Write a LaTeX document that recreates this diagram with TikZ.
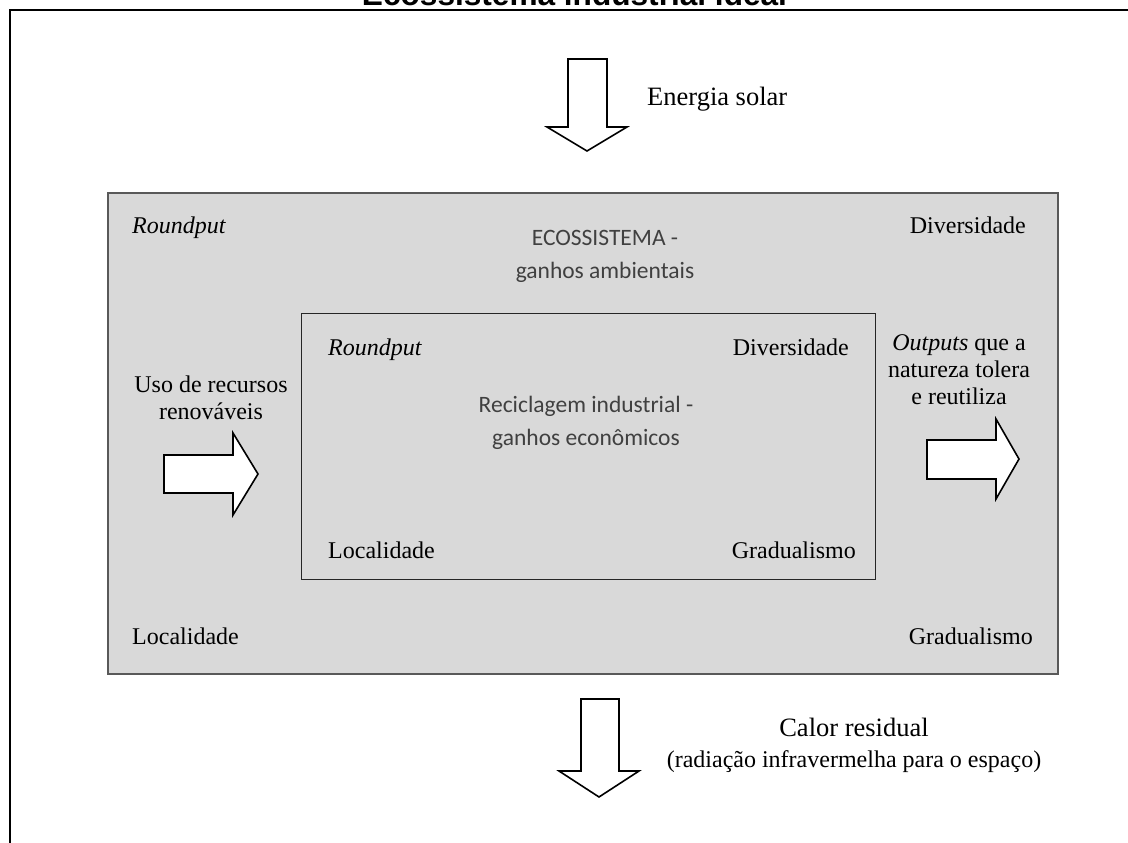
\documentclass[tikz,border=0pt]{standalone}
\usepackage{fontspec}
\setmainfont{Liberation Serif}
\newfontfamily\titlefont{Liberation Sans}
\newfontfamily\calfont{Carlito}
\definecolor{boxgray}{HTML}{D9D9D9}
\definecolor{edgegray}{HTML}{595959}
\definecolor{txtgray}{HTML}{404040}
\begin{document}
\begin{tikzpicture}[x=1pt,y=-1pt,
  serif/.style={inner sep=0pt,font=\fontsize{24}{27}\selectfont},
  serifbig/.style={inner sep=0pt,font=\fontsize{26.5}{30}\selectfont},
  calib/.style={inner sep=0pt,text=txtgray,align=center,font=\calfont\fontsize{23.5}{33}\selectfont},
  bigarrow/.style={draw=black,fill=white,line width=1.6pt,line join=miter},
  outerbox/.style={draw=edgegray,fill=boxgray,line width=2pt},
  innerbox/.style={draw=black!85,fill=boxgray,line width=1.3pt}]
\useasboundingbox (0,0) rectangle (1128,843);
\clip (0,0) rectangle (1128,843);
% frame
\draw[line width=2.5pt,line cap=rect] (10,843) -- (10,10) -- (1128,10);
\node[anchor=base,inner sep=0pt,font=\titlefont\bfseries\fontsize{31.6}{36}\selectfont] (title) at (574.5,6) {Ecossistema industrial ideal};
% top arrow
\draw[bigarrow] (568,59) -- (607,59) -- (607,127) -- (627,127) -- (587,151) -- (547,127) -- (568,127) -- cycle;
\node[serifbig,anchor=base west] (solar) at (647,106) {Energia solar};
% outer box
\node[outerbox,minimum width=950pt,minimum height=481pt,anchor=north west,inner sep=0pt] (outer) at (107,192) {};
\node[serif,anchor=base west] (oR) at (132,233) {\itshape Roundput};
\node[serif,anchor=base east] (oD) at (1026,233) {Diversidade};
\node[serif,anchor=base west] (oL) at (132,644) {Localidade};
\node[serif,anchor=base east] (oG) at (1033,644) {Gradualismo};
\node[calib,anchor=base] (eco) at (605,278) {ECOSSISTEMA -\\ganhos ambientais};
% inner box
\node[innerbox,minimum width=574pt,minimum height=266pt,anchor=north west,inner sep=0pt] (inner) at (301,313) {};
\node[serif,anchor=base west] (iR) at (328,355) {\itshape Roundput};
\node[serif,anchor=base east] (iD) at (849,355) {Diversidade};
\node[serif,anchor=base west] (iL) at (328,558) {Localidade};
\node[serif,anchor=base east] (iG) at (856,558) {Gradualismo};
\node[calib,anchor=base] (rec) at (586,445) {Reciclagem industrial -\\ganhos econômicos};
% left input
\node[serif,anchor=base,align=center] (uso) at (211,419) {Uso de recursos\\renováveis};
\draw[bigarrow] (164,455) -- (233,455) -- (233,433) -- (258,474) -- (233,515) -- (233,493) -- (164,493) -- cycle;
% right output
\node[serif,anchor=base,align=center] (outp) at (959,404) {\textit{Outputs} que a\\natureza tolera\\e reutiliza};
\draw[bigarrow] (927,440) -- (996,440) -- (996,419) -- (1019,459) -- (996,499) -- (996,479) -- (927,479) -- cycle;
% bottom arrow
\draw[bigarrow] (581,699) -- (619,699) -- (619,771) -- (639,771) -- (599,797) -- (559,771) -- (581,771) -- cycle;
\node[serifbig,anchor=base] (calor) at (854,736) {Calor residual};
\node[serif,anchor=base] (rad) at (854,767) {(radiação infravermelha para o espaço)};
\end{tikzpicture}
\end{document}
